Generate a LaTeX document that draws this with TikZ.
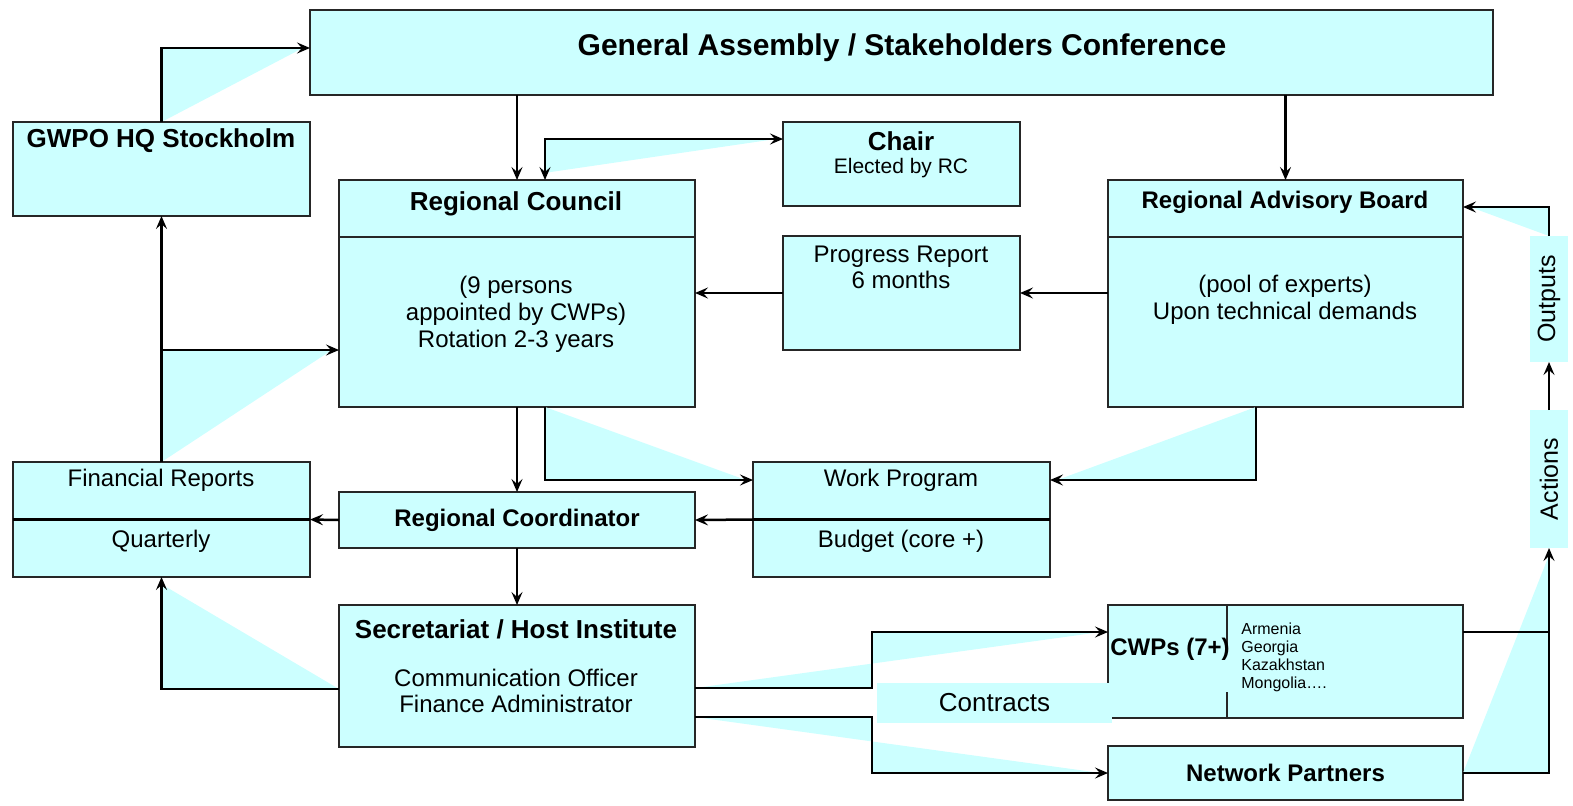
\documentclass[tikz,border=0pt]{standalone}
\usepackage{fontspec}
\setmainfont{Liberation Sans}
\usetikzlibrary{arrows.meta}
\definecolor{cyanbg}{RGB}{204,255,255}

\begin{document}
\begin{tikzpicture}[x=0.5pt,y=-0.5pt,
        >={Stealth[length=6.5pt,width=5.5pt,inset=2.5pt]},
        box/.style={draw=black!85,line width=0.7pt,fill=cyanbg,inner sep=0pt,outer sep=0pt},
        tag/.style={fill=cyanbg,inner sep=0pt,outer sep=0pt,
            font=\fontsize{12.5pt}{15pt}\selectfont},
        txt/.style={inner sep=0pt,align=center,font=\fontsize{12pt}{13.5pt}\selectfont},
        head/.style={inner sep=0pt,align=center,font=\bfseries\fontsize{13pt}{15pt}\selectfont},
        arr/.style={line width=1.25pt,->,fill=cyanbg},
        divider/.style={line width=0.7pt,draw=black!85}]
\useasboundingbox (0,0) rectangle (1573,805);

% boxes
\node[box,minimum width=591.5pt,minimum height=42.5pt] (ga) at (901.5,52.5) {};
\node[box,minimum width=148.5pt,minimum height=47pt] (gwpo) at (161.5,169) {};
\node[box,minimum width=118.5pt,minimum height=42pt] (chair) at (901.5,164) {};
\node[box,minimum width=178pt,minimum height=113.5pt] (rc) at (517,293.5) {};
\node[box,minimum width=118.5pt,minimum height=57pt] (prog) at (901.5,293) {};
\node[box,minimum width=177.5pt,minimum height=113.5pt] (rab) at (1285.5,293.5) {};
\node[box,minimum width=148.5pt,minimum height=57.5pt] (fin) at (161.5,519.5) {};
\node[box,minimum width=178pt,minimum height=28pt,
      font=\bfseries\fontsize{12pt}{14pt}\selectfont] (coord) at (517,520) {Regional Coordinator};
\node[box,minimum width=148.5pt,minimum height=57.5pt] (wp) at (901.5,519.5) {};
\node[box,minimum width=178pt,minimum height=71pt] (sec) at (517,676) {};
\node[box,minimum width=177.5pt,minimum height=56.5pt] (cwp) at (1285.5,661.5) {};
\node[box,minimum width=177.5pt,minimum height=27pt,
      font=\bfseries\fontsize{12pt}{14pt}\selectfont] (np) at (1285.5,773) {Network Partners};
\node[tag,minimum width=117.5pt,minimum height=20pt,
      font=\fontsize{13pt}{15pt}\selectfont] (contracts) at (994.5,703) {Contracts};
\node[tag,minimum width=19pt,minimum height=63pt] (out) at (1549,299) {\rotatebox{90}{Outputs}};
\node[tag,minimum width=19pt,minimum height=69pt] (act) at (1549,479) {\rotatebox{90}{Actions}};

% dividers inside the boxes
\draw[divider] ([yshift=-28.5pt]rc.north west) -- ([yshift=-28.5pt]rc.north east);
\draw[divider] ([yshift=-28.5pt]rab.north west) -- ([yshift=-28.5pt]rab.north east);
\draw[line width=1.1pt] (fin.west) -- (fin.east);
\draw[line width=1.1pt] (wp.west) -- (wp.east);
\draw[divider] ([xshift=59.5pt]cwp.north west) -- ++(0,46);
\draw[divider] ([xshift=59.5pt]cwp.south west) -- ++(0,-26);

% texts
\node[head,font=\bfseries\fontsize{15pt}{18pt}\selectfont] (gaT) at (902,48)
    {General Assembly / Stakeholders Conference};
\node[head] (gwpoT) at (161,141) {GWPO HQ Stockholm};
\node[head] (chairT) at (901,141) {Chair};
\node[txt,font=\fontsize{10.5pt}{12pt}\selectfont] (chairS) at (901,168) {Elected by RC};
\node[head] (rcT) at (516,204) {Regional Council};
\node[txt] (rcS) at (516,314) {(9 persons\\appointed by CWPs)\\Rotation 2-3 years};
\node[txt,font=\fontsize{12pt}{13pt}\selectfont] (progT) at (901,267) {Progress Report\\6 months};
\node[head,font=\bfseries\fontsize{12pt}{14pt}\selectfont] (rabT) at (1285,202) {Regional Advisory Board};
\node[txt] (rabS) at (1285,300) {(pool of experts)\\Upon technical demands};
\node[txt] (finT) at (161,480) {Financial Reports};
\node[txt] (finS) at (161,541) {Quarterly};
\node[txt] (wpT) at (901,480) {Work Program};
\node[txt] (wpS) at (901,541) {Budget (core +)};
\node[head] (secT) at (516,629) {Secretariat / Host Institute};
\node[txt,font=\fontsize{12pt}{13pt}\selectfont] (secS) at (516,691)
    {Communication Officer\\Finance Administrator};
\node[head,font=\bfseries\fontsize{12pt}{14pt}\selectfont] (cwpT) at (1170,649) {CWPs (7+)};
\node[txt,align=left,anchor=west,font=\fontsize{8pt}{9pt}\selectfont] (cwpS) at (1241,657)
    {Armenia\\Georgia\\Kazakhstan\\Mongolia….};

% connectors
\coordinate (mid) at (872,700);
\coordinate (secA) at ([yshift=-6pt]sec.east);
\coordinate (secB) at ([yshift=-20.5pt]sec.east);
\coordinate (cwpR) at ([yshift=14.75pt]cwp.east);

\draw[arr] (gwpo.north) |- ([yshift=2.25pt]ga.west);
\draw[arr] (ga.south -| rc.north) -- (rc.north);
\draw[arr] (ga.south -| rab.north) -- (rab.north);
\draw[arr,<->] ([xshift=14pt]rc.north) |- ([yshift=12.5pt]chair.west);
\draw[arr] (prog.west) -- (prog.west -| rc.east);
\draw[arr] (rab.west |- prog.west) -- (prog.east);
\draw[arr] (fin.north) -- (gwpo.south);
\draw[arr] (fin.north) |- ([yshift=-28.25pt]rc.west);
\draw[arr] (rc.south) -- (coord.north);
\draw[arr] ([xshift=14pt]rc.south) |- ([yshift=19.75pt]wp.west);
\draw[arr] ([xshift=-14.75pt]rab.south) |- ([yshift=19.75pt]wp.east);
\draw[arr] (wp.west) -- (coord.east);
\draw[arr] (coord.west) -- (fin.east);
\draw[arr] (coord.south) -- (sec.north);
\draw[arr] ([yshift=-6.5pt]sec.west) -| (fin.south);
\draw[arr] (secA) -- (secA -| mid) |- ([yshift=14.75pt]cwp.west);
\draw[arr] (secB) -- (secB -| mid) |- (np.west);
\draw[arr] (np.east) -| (act.south);
\draw[line width=0.7pt] (cwpR) -- (cwpR -| act.south);
\draw[arr] (act.north) -- (out.south);
\draw[arr] (out.north) |- ([yshift=43.25pt]rab.east);

\end{tikzpicture}
\end{document}
